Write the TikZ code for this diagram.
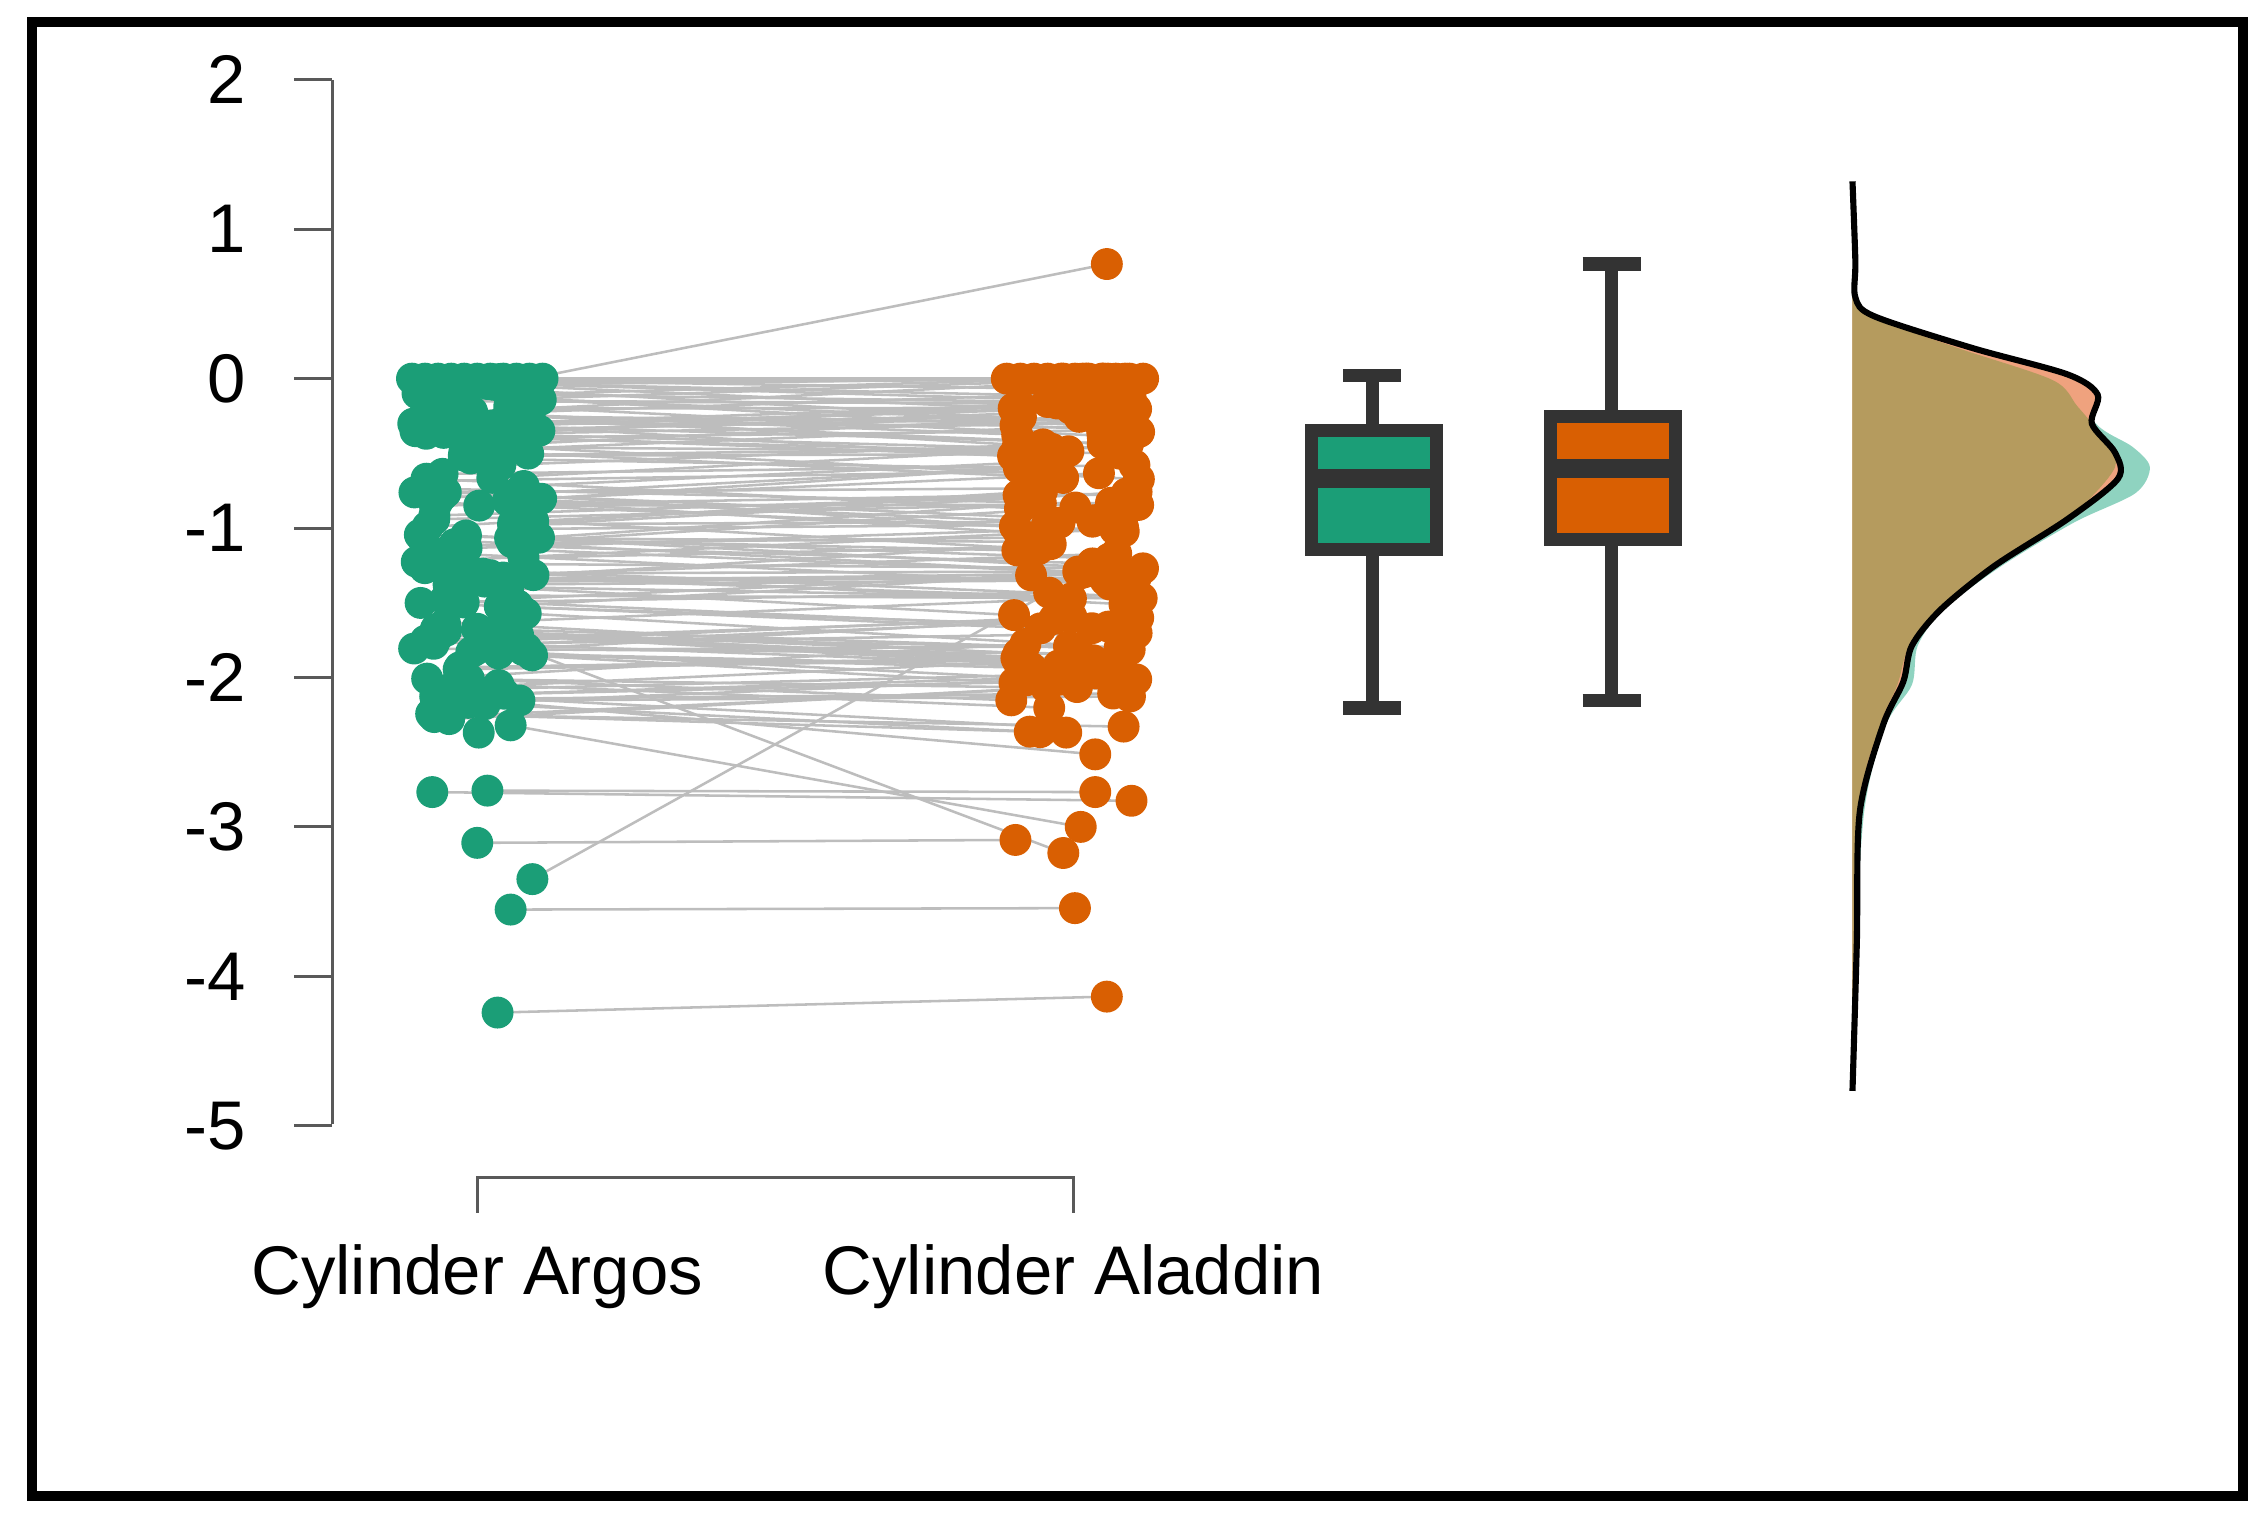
\documentclass[tikz,border=0pt]{standalone}
\usepackage{fontspec}
\setmainfont{Liberation Sans}
\definecolor{gA}{HTML}{1B9E77}
\definecolor{oA}{HTML}{D95F02}
\definecolor{lnA}{HTML}{BDBDBD}
\definecolor{bxA}{HTML}{333333}
\definecolor{dG}{HTML}{8FD3C0}
\definecolor{dO}{HTML}{EFA27E}
\definecolor{dM}{HTML}{B59B5E}
\begin{document}
\begin{tikzpicture}[x=0.01cm,y=-0.01cm,
  lab/.style={font=\fontsize{13.5}{16}\selectfont},
  pl/.style={lnA,line width=0.5pt},
  dotg/.style={fill=gA},
  doto/.style={fill=oA},
  boxs/.style={draw=bxA,line width=2.6pt}]
\useasboundingbox (0,0) rectangle (1560,1047);
\draw[line width=2pt] (22,15) rectangle (1546,1031);
% y axis
\draw[gray!70!black,line width=0.6pt] (229,55) -- (229,775);
\foreach \v/\t in {0/2,1/1,2/0,3/-1,4/-2,5/-3,6/-4,7/-5}{
  \draw[gray!70!black,line width=0.6pt] (203,{55+103*\v}) -- (229,{55+103*\v});
  \node[lab,anchor=east] (yl\v) at (182,{55+103*\v}) {\t};
}
% x axis
\draw[gray!70!black,line width=0.6pt] (329,836) -- (329,812) -- (740,812) -- (740,836);
\node[lab] (la) at (329,880) {Cylinder Argos};
\node[lab] (lb) at (740,880) {Cylinder Aladdin};
% lines
\pgfmathsetseed{17}
\foreach \i in {1,...,150}{
  \pgfmathsetmacro\yg{261+235*rnd^1.4}
  \pgfmathsetmacro\yo{max(261,\yg+50*(rnd-0.5))}
  \pgfmathsetmacro\xg{284+90*rnd}
  \pgfmathsetmacro\xo{694+94*rnd}
  \draw[pl] (\xg,\yg) -- (\xo,\yo);
}
\foreach \i in {0,...,10}{\draw[pl] ({284+9*\i},261) -- ({694+9.4*\i},261);}
\draw[pl] (343,698) -- (763,687);
\draw[pl] (352,627) -- (741,626);
\draw[pl] (367,606) -- (720,410);
\draw[pl] (329,581) -- (700,579);
\draw[pl] (298,546) -- (780,552);
\draw[pl] (336,545) -- (755,546);
\draw[pl] (320,270) -- (763,182);
\draw[pl] (352,500) -- (745,570);
\draw[pl] (340,440) -- (733,588);
\draw[pl] (300,480) -- (755,520);
% dots
\pgfmathsetseed{17}
\foreach \i in {1,...,150}{
  \pgfmathsetmacro\yg{261+235*rnd^1.4}
  \pgfmathsetmacro\yo{max(261,\yg+50*(rnd-0.5))}
  \pgfmathsetmacro\xg{284+90*rnd}
  \pgfmathsetmacro\xo{694+94*rnd}
  \fill[dotg] (\xg,\yg) circle (11);
  \fill[doto] (\xo,\yo) circle (11);
}
\foreach \i in {0,...,10}{\fill[dotg] ({284+9*\i},261) circle (11);\fill[doto] ({694+9.4*\i},261) circle (11);}
\foreach \p in {(343,698),(352,627),(367,606),(329,581),(298,546),(336,545),(352,500),(300,480),(330,505)}{\fill[dotg] \p circle (11);}
\foreach \p in {(763,687),(741,626),(733,588),(700,579),(780,552),(755,546),(763,182),(745,570),(755,520),(735,505)}{\fill[doto] \p circle (11);}
% boxplots
\draw[boxs] (946,259) -- (946,297) (946,379) -- (946,488) (926,259) -- (966,259) (926,488) -- (966,488);
\draw[boxs,fill=gA] (904,297) rectangle (990,379);
\draw[bxA,line width=3.8pt] (904,330) -- (990,330);
\draw[boxs] (1111,182) -- (1111,287) (1111,372) -- (1111,483) (1091,182) -- (1131,182) (1091,483) -- (1131,483);
\draw[boxs,fill=oA] (1069,287) rectangle (1155,372);
\draw[bxA,line width=3.8pt] (1069,323) -- (1155,323);
% densities
\fill[dG] plot[smooth] coordinates {(1277,200) (1290,218) (1350,240) (1420,268) (1448,295) (1470,308) (1482,322) (1472,340) (1430,360) (1380,390) (1340,420) (1322,445) (1318,472) (1300,500) (1285,560) (1278,680) (1277,752)} -- cycle;
\fill[dO] plot[smooth] coordinates {(1277,200) (1292,218) (1360,240) (1425,258) (1446,272) (1442,292) (1458,312) (1460,330) (1425,358) (1375,390) (1338,420) (1318,445) (1312,470) (1298,500) (1282,560) (1277,752)} -- cycle;
\fill[dM] plot[smooth] coordinates {(1277,200) (1290,218) (1350,240) (1415,262) (1432,280) (1448,300) (1458,322) (1425,358) (1375,390) (1336,420) (1316,445) (1308,472) (1296,500) (1282,560) (1277,752)} -- cycle;
\draw[line width=1.2pt] plot[smooth] coordinates {(1277,125) (1279,180) (1279,205) (1292,218) (1360,240) (1425,258) (1446,272) (1442,292) (1458,312) (1460,330) (1425,358) (1375,390) (1338,420) (1318,445) (1312,470) (1298,500) (1282,560) (1280,650) (1277,752)};
\end{tikzpicture}
\end{document}
